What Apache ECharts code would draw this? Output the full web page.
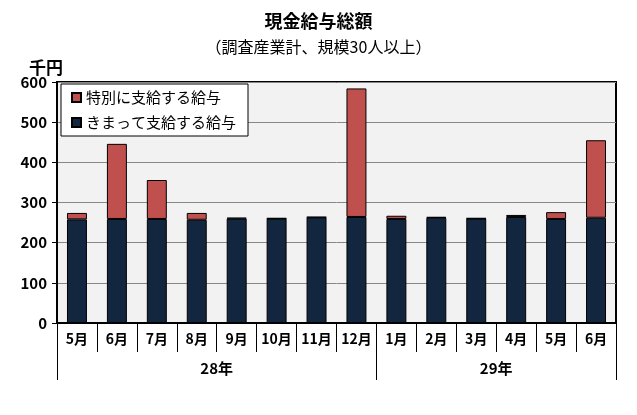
<!DOCTYPE html>
<html>
<head>
<meta charset="utf-8">
<script src="https://cdn.jsdelivr.net/npm/echarts@6/dist/echarts.min.js"></script>
<style>html,body{margin:0;padding:0;background:#fff;}#c{width:637px;height:415px;}</style>
</head>
<body>
<div id="c"></div>
<script>
const months = ['5月','6月','7月','8月','9月','10月','11月','12月','1月','2月','3月','4月','5月','6月'];
const years = ['28年','29年'];
const yearSpans = [8, 6];
const regular = [258, 259, 259, 257, 260, 260, 263, 264, 259, 262, 260, 264, 259, 262];
const special = [16, 187, 97, 17, 2, 1, 1, 320, 8, 2, 1, 5, 17, 193];
const yTicks = [0, 100, 200, 300, 400, 500, 600];

const FONT = '"Noto Sans CJK JP", sans-serif';
// year group boundaries and centers derived from spans
const bounds = [0];
yearSpans.forEach(s => bounds.push(bounds[bounds.length - 1] + s));
const centers = yearSpans.map((s, i) => bounds[i] + s / 2);

const chart = echarts.init(document.getElementById('c'), null, {renderer: 'canvas'});
chart.setOption({
  animation: false,
  backgroundColor: '#ffffff',
  textStyle: {fontFamily: FONT},
  title: [
    {text: '現金給与総額', left: 'center', top: 7,
     textStyle: {fontFamily: FONT, fontSize: 18, fontWeight: 'bold', color: '#000'}},
    {text: '（調査産業計、規模30人以上）', left: 'center', top: 34,
     textStyle: {fontFamily: FONT, fontSize: 16, fontWeight: 'normal', color: '#000'}},
    {text: '千円', left: 24, top: 54,
     textStyle: {fontFamily: FONT, fontSize: 17, fontWeight: 'bold', color: '#000'}}
  ],
  legend: {
    orient: 'vertical', left: 61, top: 84,
    data: ['特別に支給する給与', 'きまって支給する給与'],
    backgroundColor: '#ffffff', borderColor: '#000', borderWidth: 1,
    padding: [6, 12, 6, 10],
    itemWidth: 9, itemHeight: 9, itemGap: 10,
    icon: 'rect',
    textStyle: {fontFamily: FONT, fontSize: 15, color: '#000'}
  },
  grid: {left: 57, right: 21, top: 82, bottom: 92, show: true,
         backgroundColor: '#f2f2f2', borderColor: '#000', borderWidth: 2, containLabel: false},
  xAxis: [
    {type: 'category', data: months, position: 'bottom',
     axisLine: {show: true, lineStyle: {color: '#000', width: 2}},
     axisTick: {show: true, interval: 0, length: 29, lineStyle: {color: '#000', width: 1}},
     axisLabel: {interval: 0, margin: 9, fontSize: 14, fontWeight: 'bold', color: '#000', fontFamily: FONT}},
    {type: 'value', min: 0, max: months.length, position: 'bottom',
     axisLine: {show: false}, splitLine: {show: false},
     axisTick: {show: true, customValues: bounds, length: 57, lineStyle: {color: '#000', width: 1}},
     axisLabel: {customValues: centers, margin: 38, fontSize: 15, fontWeight: 'bold', color: '#000', fontFamily: FONT,
                 formatter: v => years[centers.indexOf(v)]}}
  ],
  yAxis: {
    type: 'value', min: yTicks[0], max: yTicks[yTicks.length - 1], interval: 100,
    axisLine: {show: true, lineStyle: {color: '#000', width: 2}},
    axisTick: {show: true, length: 5, lineStyle: {color: '#000'}},
    axisLabel: {fontSize: 15, fontWeight: 'bold', color: '#000', margin: 10, fontFamily: FONT},
    splitLine: {show: true, lineStyle: {color: '#888', width: 1}}
  },
  series: [
    {name: 'きまって支給する給与', type: 'bar', stack: 'total', data: regular, barWidth: '50%',
     itemStyle: {color: '#132640', borderColor: '#000', borderWidth: 1}},
    {name: '特別に支給する給与', type: 'bar', stack: 'total', data: special, barWidth: '50%',
     itemStyle: {color: '#c0504d', borderColor: '#000', borderWidth: 1}}
  ]
});
</script>
</body>
</html>
